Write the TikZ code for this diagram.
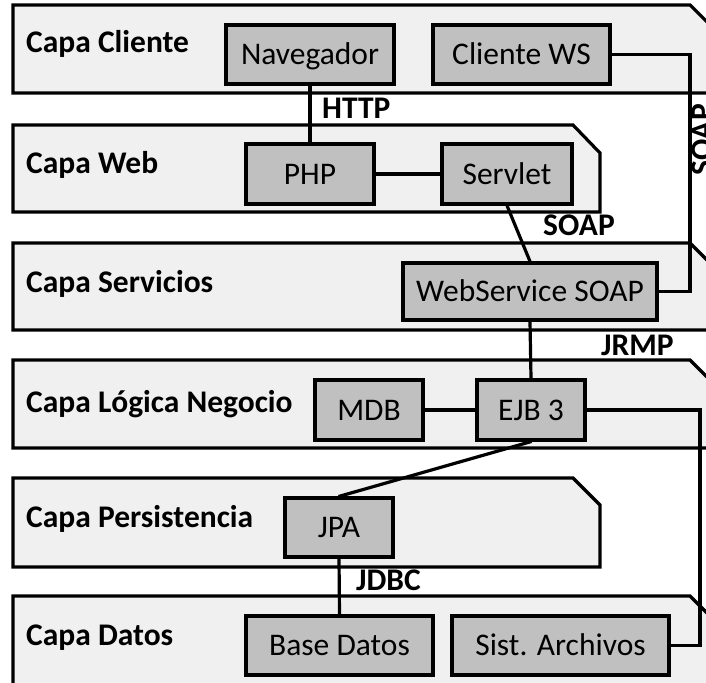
\documentclass[tikz,border=0pt]{standalone}
\usepackage{fontspec}
\setmainfont{Carlito}

\definecolor{capafondo}{RGB}{240,240,240}
\definecolor{cajagris}{RGB}{192,192,192}

\begin{document}
\begin{tikzpicture}[x=1pt,y=-1pt,line cap=round,
    capa/.style={draw,fill=capafondo,line width=3.2pt},
    caja/.style={draw,fill=cajagris,line width=3.2pt,inner sep=0pt,
        font=\fontsize{31.5}{38}\selectfont,text height=20pt,text depth=0pt},
    titulo/.style={anchor=base west,inner sep=0pt,
        font=\fontsize{31.5}{38}\selectfont\bfseries},
    enlace/.style={line width=3.2pt}]
        \useasboundingbox (0,0) rectangle (706,682);

        %----------------------------------------------------------
        % Capas (esquina superior derecha recortada)
        \draw[capa] (13,5) -- (690,5) -- (718,33) -- (718,93) -- (13,93) -- cycle;
        \draw[capa] (13,125) -- (573,125) -- (600,153) -- (600,212) -- (13,212) -- cycle;
        \draw[capa] (13,243) -- (690,243) -- (718,271) -- (718,330) -- (13,330) -- cycle;
        \draw[capa] (13,360) -- (690,360) -- (718,388) -- (718,448) -- (13,448) -- cycle;
        \draw[capa] (13,478) -- (573,478) -- (600,505) -- (600,567) -- (13,567) -- cycle;
        \draw[capa] (13,596) -- (690,596) -- (718,624) -- (718,700) -- (13,700) -- cycle;

        \node[titulo] (tcliente) at (26,53) {Capa Cliente};
        \node[titulo] (tweb) at (26,173) {Capa Web};
        \node[titulo] (tservicios) at (26,292) {Capa Servicios};
        \node[titulo] (tnegocio) at (26,412) {Capa Lógica Negocio};
        \node[titulo] (tpersistencia) at (26,527) {Capa Persistencia};
        \node[titulo] (tdatos) at (26,645) {Capa Datos};

        %----------------------------------------------------------
        % Componentes
        \node[caja,minimum width=168pt,minimum height=59pt] (nav) at (310,54.5) {Navegador};
        \node[caja,minimum width=177pt,minimum height=59pt] (clientews) at (521.5,54.5) {Cliente WS};
        \node[caja,minimum width=128pt,minimum height=60pt] (php) at (310,174) {PHP};
        \node[caja,minimum width=130pt,minimum height=60pt] (servlet) at (507,174) {Servlet};
        \node[caja,minimum width=254pt,minimum height=57pt] (websoap) at (530,291.5) {WebService SOAP};
        \node[caja,minimum width=108pt,minimum height=60pt] (mdb) at (369,410) {MDB};
        \node[caja,minimum width=108pt,minimum height=60pt] (ejb) at (531,410) {EJB 3};
        \node[caja,minimum width=108pt,minimum height=59pt] (jpa) at (339,527.5) {JPA};
        \node[caja,minimum width=187pt,minimum height=59pt] (bd) at (339.5,645.5) {Base Datos};
        \node[caja,minimum width=217pt,minimum height=59pt] (archivos) at (560.5,645.5) {Sist. Archivos};

        %----------------------------------------------------------
        % Conexiones entre componentes
        \coordinate (codows) at (690,0);
        \coordinate (codoarch) at (700,0);
        \draw[enlace] (nav.south) -- (php.north);
        \draw[enlace] (php.east) -- (servlet.west);
        \draw[enlace] (servlet.south) -- (websoap.north);
        \draw[enlace] (clientews.east) -- (clientews.east -| codows)
            -- (websoap.east -| codows) -- (websoap.east);
        \draw[enlace] (websoap.south) -- (ejb.north);
        \draw[enlace] (mdb.east) -- (ejb.west);
        \draw[enlace] (ejb.east) -- (ejb.east -| codoarch)
            -- (archivos.east -| codoarch) -- (archivos.east);
        \draw[enlace] (ejb.south) -- (jpa.north);
        \draw[enlace] (jpa.south) -- (bd.north);

        % Protocolos
        \node[titulo] (http) at (322,118) {HTTP};
        \node[titulo] (soapweb) at (543,235) {SOAP};
        \node[titulo,anchor=center,rotate=90] (soapws) at (702,140) {SOAP};
        \node[titulo] (jrmp) at (601,355) {JRMP};
        \node[titulo] (jdbc) at (356,590) {JDBC};
    \end{tikzpicture}
\end{document}
